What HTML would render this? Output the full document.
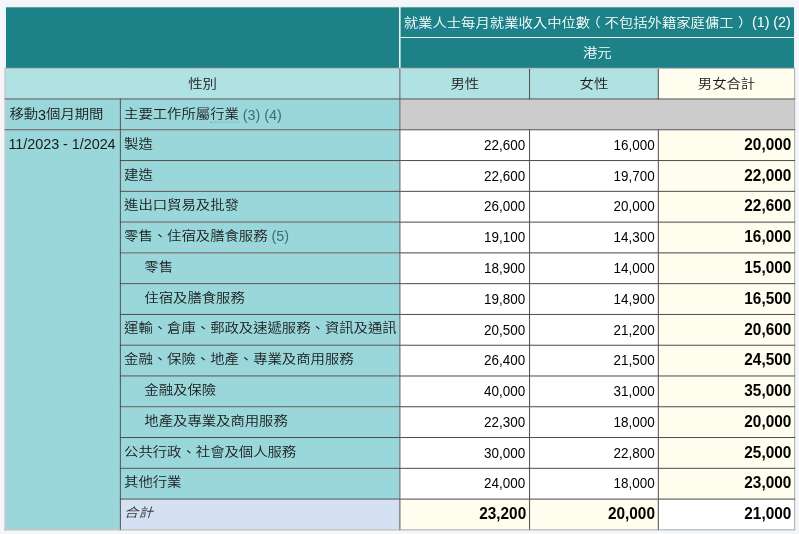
<!DOCTYPE html>
<html lang="zh-HK">
<head>
<meta charset="utf-8">
<title>就業人士每月就業收入中位數</title>
<style>
html,body{margin:0;padding:0;}
body{background:#f4f6fa;width:799px;height:534px;overflow:hidden;position:relative;
  font-family:"Liberation Sans","Noto Sans CJK TC",sans-serif;font-size:15px;color:#1a1a1a;}
#wrap{position:absolute;left:0;top:0;width:832px;height:556px;transform-origin:0 0;transform:translate(-0.2px,-0.52px) scale(0.9606,0.9617);}
table{position:absolute;left:5px;top:7px;width:823px;border-collapse:collapse;table-layout:fixed;}
th{font-size:15px;font-weight:350;}
.l{font-weight:400;}
.c{display:inline-block;letter-spacing:-0.07px;transform:translateY(-2.2px) scaleY(0.88);transform-origin:50% 50%;}
thead .g .c{transform:translateY(-0.2px) scaleY(0.88);}
tr.r4 .c{transform:translateY(-0.8px) scaleY(0.88);}
.l{letter-spacing:-0.05px;position:relative;}
tbody tr:not(.r4) th.rh .l{top:-1.6px;}
tbody th.period .l{top:-0.7px !important;}
td,th{box-sizing:border-box;height:32px;padding:0 3px;border:1px solid #464646;
  line-height:20px;vertical-align:middle;white-space:nowrap;overflow:hidden;}
thead .h1 th{background:#1d8287;color:#fff;border-color:#e9f2f2;text-align:center;}
thead .h1 th.blank{border-color:#e9f2f2;}
thead .h1 th.b2{border-bottom-color:#a6a6a6;}
thead .g th{background:#b0e1e3;text-align:center;}
thead .g th.tot{background:#fffdee;}
th.rh{background:#9ad7db;text-align:left;padding-left:3.4px;}
tr.r4 th.rh:first-child{padding-left:4px;}
th.rh.period{padding-left:3px;}
th.sub{padding-left:24.5px;}
td{background:#fff;text-align:right;font-size:14px;font-weight:normal;padding-right:4px;color:#000;}
tbody td:nth-of-type(2){padding-right:3.2px;}
td.tot{background:#fffdee;font-weight:bold;font-size:16px;padding-right:3px;}
td.grey{background:#cccccc;}
tr.total th{background:#d6e0f3;font-style:italic;color:#3a3a3a;}
tr.total td{background:#fffdee;font-weight:bold;font-size:16px;padding-right:3px;}
tr.total td.tot{background:#fff;}
tbody tr>th:first-child,thead .g th:first-child{border-left-color:#a8a8a8;}
tbody tr>td:last-child,thead .g th:last-child{border-right-color:#a8a8a8;}
tr.total>*,th.period{border-bottom-color:#a8a8a8;}
tbody tr:not(.r4)>th.rh:not(.period){border-left-color:#464646;}
th.period{vertical-align:top;padding-top:5px;}
.n{color:#3a6d78;}
.v{display:inline-block;transform:translateY(-0.5px) scaleY(1.155);transform-origin:50% 78%;}
td.tot .v,tr.total .v{transform:translateY(-0.6px) scaleY(1.02);}
.u{border-bottom:1px dotted rgba(60,120,200,.55);padding-bottom:1px;}
thead .u{border-bottom-color:rgba(64,128,215,.9);}
.pl{position:relative;left:-4px;}
.pr{position:relative;left:4.5px;}
thead .h1 .c{font-weight:350;transform:translateY(-0.3px) scaleY(0.88);}
</style>
</head>
<body>
<div id="wrap">
<table>
<colgroup><col style="width:120px"><col style="width:291px"><col style="width:135px"><col style="width:134px"><col style="width:142px"></colgroup>
<thead>
<tr class="h1"><th class="blank b2" colspan="2" rowspan="2"></th><th colspan="3"><span class="c"><span class="u">就業人士每月就業收入</span>中位數<span class="pl">（</span>不包括外籍家庭傭工<span class="pr">）</span></span><span class="l"> (1) (2)</span></th></tr>
<tr class="h1"><th class="b2" colspan="3"><span class="c">港元</span></th></tr>
<tr class="g"><th colspan="2"><span class="c">性別</span></th><th><span class="c">男性</span></th><th><span class="c">女性</span></th><th class="tot"><span class="c">男女合計</span></th></tr>
</thead>
<tbody>
<tr class="r4"><th class="rh"><span class="c">移動</span><span class="l">3</span><span class="c">個月期間</span></th><th class="rh"><span class="c">主要工作所屬<span class="u">行業</span></span><span class="l n"> (3) (4)</span></th><td class="grey" colspan="3"></td></tr>
<tr><th class="rh period" rowspan="13"><span class="l">11/2023 - 1/2024</span></th><th class="rh"><span class="c">製造</span></th><td><span class="v">22,600</span></td><td><span class="v">16,000</span></td><td class="tot"><span class="v">20,000</span></td></tr>
<tr><th class="rh"><span class="c">建造</span></th><td><span class="v">22,600</span></td><td><span class="v">19,700</span></td><td class="tot"><span class="v">22,000</span></td></tr>
<tr><th class="rh"><span class="c">進出口貿易及批發</span></th><td><span class="v">26,000</span></td><td><span class="v">20,000</span></td><td class="tot"><span class="v">22,600</span></td></tr>
<tr><th class="rh"><span class="c">零售、住宿及膳食服務</span><span class="l n"> (5)</span></th><td><span class="v">19,100</span></td><td><span class="v">14,300</span></td><td class="tot"><span class="v">16,000</span></td></tr>
<tr><th class="rh sub"><span class="c">零售</span></th><td><span class="v">18,900</span></td><td><span class="v">14,000</span></td><td class="tot"><span class="v">15,000</span></td></tr>
<tr><th class="rh sub"><span class="c">住宿及膳食服務</span></th><td><span class="v">19,800</span></td><td><span class="v">14,900</span></td><td class="tot"><span class="v">16,500</span></td></tr>
<tr><th class="rh"><span class="c">運輸、倉庫、郵政及速遞服務、資訊及通訊</span></th><td><span class="v">20,500</span></td><td><span class="v">21,200</span></td><td class="tot"><span class="v">20,600</span></td></tr>
<tr><th class="rh"><span class="c">金融、保險、地產、專業及商用服務</span></th><td><span class="v">26,400</span></td><td><span class="v">21,500</span></td><td class="tot"><span class="v">24,500</span></td></tr>
<tr><th class="rh sub"><span class="c">金融及保險</span></th><td><span class="v">40,000</span></td><td><span class="v">31,000</span></td><td class="tot"><span class="v">35,000</span></td></tr>
<tr><th class="rh sub"><span class="c">地產及專業及商用服務</span></th><td><span class="v">22,300</span></td><td><span class="v">18,000</span></td><td class="tot"><span class="v">20,000</span></td></tr>
<tr><th class="rh"><span class="c">公共行政、社會及個人服務</span></th><td><span class="v">30,000</span></td><td><span class="v">22,800</span></td><td class="tot"><span class="v">25,000</span></td></tr>
<tr><th class="rh"><span class="c">其他行業</span></th><td><span class="v">24,000</span></td><td><span class="v">18,000</span></td><td class="tot"><span class="v">23,000</span></td></tr>
<tr class="total"><th class="rh"><span class="c">合計</span></th><td><span class="v">23,200</span></td><td><span class="v">20,000</span></td><td class="tot"><span class="v">21,000</span></td></tr>
</tbody>
</table>
</div>
</body>
</html>
